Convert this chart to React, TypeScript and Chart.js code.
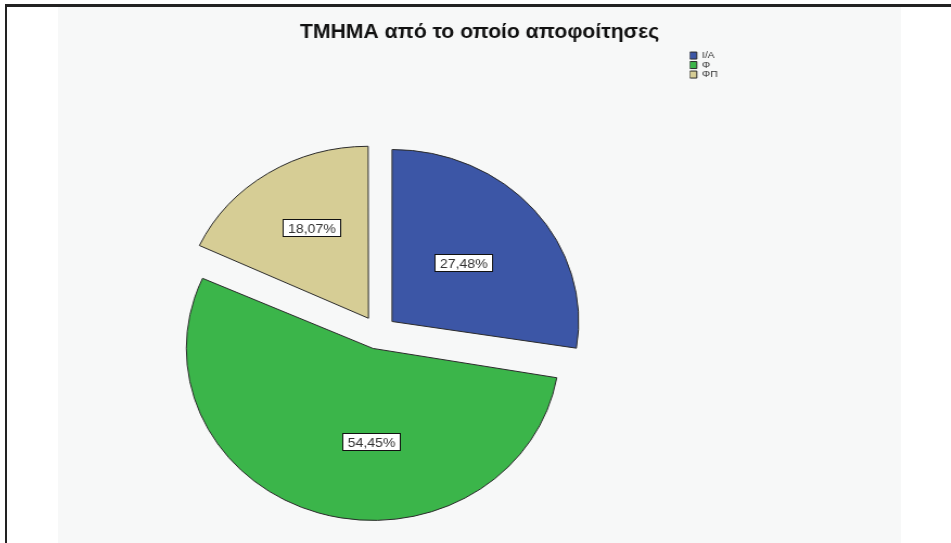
import React, { useEffect, useRef } from 'react';
import { Chart, registerables } from 'chart.js';

Chart.register(...registerables);

const categories = ['Ι/Α', 'Φ', 'ΦΠ'];
const percentages = [27.48, 54.45, 18.07];
const sliceColors = ['#3c56a6', '#3bb54a', '#d6cd95'];
const chartTitle = 'ΤΜΗΜΑ από το οποίο αποφοίτησες';

const FONT = "'Liberation Sans', Arial, sans-serif";
const CW = 777;
const CH = 614;
const SX = 843 / 777;
const RADIUS = 172;
const OFFSET = 67;
const LABEL_FRAC = [0.51, 0.54, 0.61];
const LABEL_NUDGE_DEG = [-1.5, -16, 2.7];

const radiusFix = {
  id: 'radiusFix',
  afterDatasetsUpdate(chart: any) {
    const meta = chart.getDatasetMeta(0);
    meta.data.forEach((el: any) => {
      const off = ((el.options && el.options.offset) || 0) / 4;
      const circ = el.endAngle - el.startAngle;
      const fix = 1 - Math.sin(Math.min(Math.PI, circ));
      el.outerRadius = el.outerRadius - off * fix;
    });
  },
};

const centeredTitle = {
  id: 'centeredTitle',
  afterDraw(chart: any) {
    const ctx = chart.ctx;
    ctx.save();
    ctx.font = `bold 19.5px ${FONT}`;
    ctx.fillStyle = '#111111';
    ctx.textAlign = 'center';
    ctx.textBaseline = 'middle';
    ctx.fillText(chartTitle, chart.width / 2, 25.5);
    ctx.restore();
  },
};

const sliceLabels = {
  id: 'sliceLabels',
  afterDatasetsDraw(chart: any) {
    const ctx = chart.ctx;
    const meta = chart.getDatasetMeta(0);
    ctx.save();
    ctx.font = `13px ${FONT}`;
    ctx.textAlign = 'center';
    ctx.textBaseline = 'middle';
    meta.data.forEach((el: any, i: number) => {
      const mid = (el.startAngle + el.endAngle) / 2;
      const off = ((el.options && el.options.offset) || 0) / 4;
      const a = mid + (LABEL_NUDGE_DEG[i] * Math.PI) / 180;
      const x = el.x + Math.cos(mid) * off + Math.cos(a) * LABEL_FRAC[i] * RADIUS;
      const y = el.y + Math.sin(mid) * off + Math.sin(a) * LABEL_FRAC[i] * RADIUS;
      const text = percentages[i].toFixed(2).replace('.', ',') + '%';
      const w = Math.round(ctx.measureText(text).width + 9);
      const h = 17;
      const bx = Math.round(x - w / 2) + 0.5;
      const by = Math.round(y - h / 2) + 0.5;
      ctx.fillStyle = '#ffffff';
      ctx.fillRect(bx, by, w, h);
      ctx.strokeStyle = '#111111';
      ctx.lineWidth = 1;
      ctx.strokeRect(bx, by, w, h);
      ctx.fillStyle = '#333333';
      ctx.fillText(text, bx + w / 2, by + h / 2 + 1);
    });
    ctx.restore();
  },
};

export default function App() {
  const ref = useRef<HTMLCanvasElement | null>(null);

  useEffect(() => {
    if (!ref.current) return;
    const chart = new Chart(ref.current, {
      type: 'pie',
      data: {
        labels: categories,
        datasets: [
          {
            data: percentages,
            backgroundColor: sliceColors,
            borderColor: '#2a2a2a',
            borderWidth: 1,
            offset: OFFSET,
            borderJoinStyle: 'miter',
          } as any,
        ],
      },
      options: {
        animation: false,
        responsive: true,
        maintainAspectRatio: false,
        devicePixelRatio: 1,
        radius: RADIUS,
        layout: { padding: { left: 8, right: 159, top: 43.8, bottom: 7 } },
        plugins: {
          title: { display: false },
          legend: {
            display: true,
            position: 'right',
            align: 'start',
            fullSize: false,
            labels: {
              boxWidth: 6.5,
              boxHeight: 7,
              padding: 0,
              color: '#333333',
              font: { family: FONT, size: 9.5 },
            },
          },
          tooltip: { enabled: false },
        },
      } as any,
      plugins: [radiusFix, sliceLabels, centeredTitle],
    });
    return () => chart.destroy();
  }, []);

  return (
    <div
      style={{
        position: 'absolute',
        left: 0,
        top: 0,
        width: 951,
        height: 543,
        overflow: 'hidden',
        background: '#ffffff',
      }}
    >
      <div
        style={{
          position: 'absolute',
          left: 5,
          top: 4,
          width: 2000,
          height: 2000,
          borderLeft: '2px solid #222',
          borderTop: '3px solid #222',
        }}
      />
      <div
        style={{
          position: 'absolute',
          left: 58,
          top: 7,
          width: 843,
          height: 600,
          background: '#f7f8f8',
        }}
      />
      <div
        style={{
          position: 'absolute',
          left: 58,
          top: 7,
          width: CW,
          height: CH,
          transform: `scaleX(${SX})`,
          transformOrigin: '0 0',
        }}
      >
        <canvas ref={ref} />
      </div>
    </div>
  );
}
